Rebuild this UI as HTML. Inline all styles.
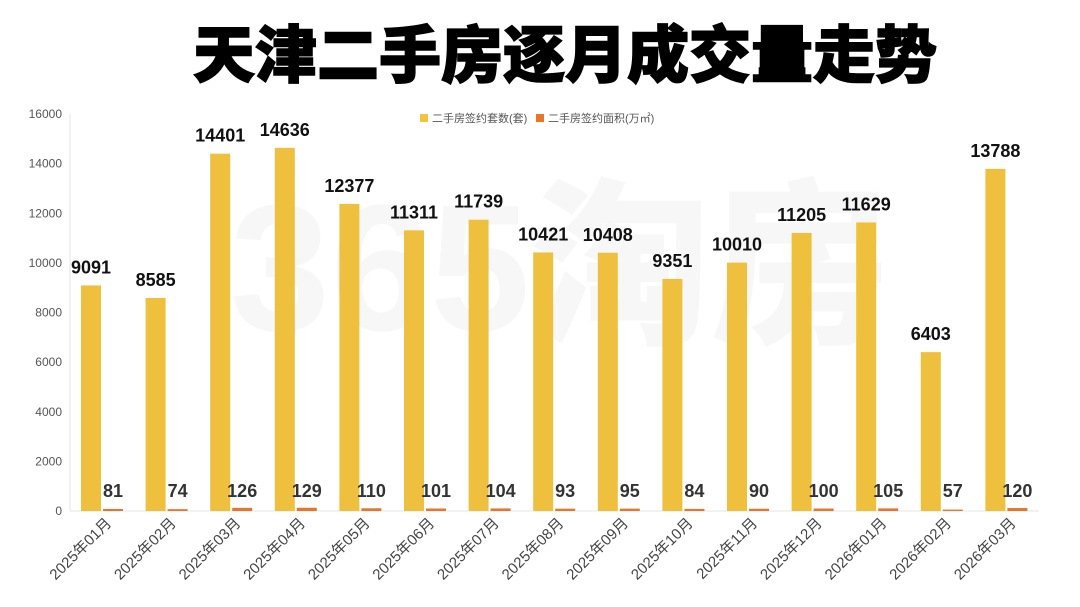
<!DOCTYPE html>
<html><head><meta charset="utf-8"><style>
body{margin:0;background:#fff;width:1080px;height:602px;overflow:hidden;font-family:"Liberation Sans","Noto Sans CJK SC",sans-serif}
</style></head><body>
<svg width="1080" height="602" id="c" style="font-family:'Liberation Sans','Noto Sans CJK SC',sans-serif">
<text x="565" y="77" text-anchor="middle" font-size="62" font-weight="900" fill="#000" stroke="#000" stroke-width="1.5">天津二手房逐月成交量走势</text>
<text x="560" y="330" text-anchor="middle" font-size="180" font-weight="900" fill="#f2f2f2" opacity="0.6">365淘房</text>
<g>
<rect x="420" y="114" width="8" height="8" fill="#f5c33b"/>
<text x="432" y="122" font-size="11" fill="#555">二手房签约套数(套)</text>
<rect x="536" y="114" width="8" height="8" fill="#e8752a"/>
<text x="548" y="122" font-size="11" fill="#555">二手房签约面积(万㎡)</text>
</g>
<line x1="70" y1="114" x2="70" y2="511" stroke="#e6e6e6"/>
<line x1="70" y1="511" x2="1039" y2="511" stroke="#e6e6e6"/>
<g id="g"></g>
</svg>
<script>
const categories=["2025年01月","2025年02月","2025年03月","2025年04月","2025年05月","2025年06月","2025年07月","2025年08月","2025年09月","2025年10月","2025年11月","2025年12月","2026年01月","2026年02月","2026年03月"];
const units=[9091,8585,14401,14636,12377,11311,11739,10421,10408,9351,10010,11205,11629,6403,13788];
const area=[81,74,126,129,110,101,104,93,95,84,90,100,105,57,120];
const yTicks=[0,2000,4000,6000,8000,10000,12000,14000,16000];
const NS="http://www.w3.org/2000/svg",g=document.getElementById('g');
const x0=70,x1=1039,y0=511,y1=114,yMax=16000;
const bw=(x1-x0)/categories.length;
const y=v=>y0-(v/yMax)*(y0-y1);
function mk(t,a,txt){const e=document.createElementNS(NS,t);for(const k in a)e.setAttribute(k,a[k]);if(txt!=null)e.textContent=txt;g.appendChild(e);return e;}
yTicks.forEach(v=>{const e=mk('text',{x:62,y:y(v)+4,'text-anchor':'end','font-size':12,fill:'#555'},v);

});
categories.forEach((c,i)=>{
const cx=x0+bw*i;
const b=mk('rect',{x:cx+11,y:y(units[i]),width:20,height:y0-y(units[i]),fill:'#efc03d'});


const b2=mk('rect',{x:cx+33,y:y(area[i]),width:20,height:Math.max(1,y0-y(area[i])),fill:'#e8752a'});


const l=mk('text',{x:cx+21,y:y(units[i])-12,'text-anchor':'middle','font-size':18,'font-weight':'bold',fill:'#111'},units[i]);


const l2=mk('text',{x:cx+43,y:y0-14,'text-anchor':'middle','font-size':18,'font-weight':'bold',fill:'#333'},area[i]);


const tx=cx+bw/2+10,ty=524;
const xl=mk('text',{x:tx,y:ty,'text-anchor':'end','font-size':15,fill:'#444',transform:`rotate(-45 ${tx} ${ty})`},c);


});
</script>
</body></html>
